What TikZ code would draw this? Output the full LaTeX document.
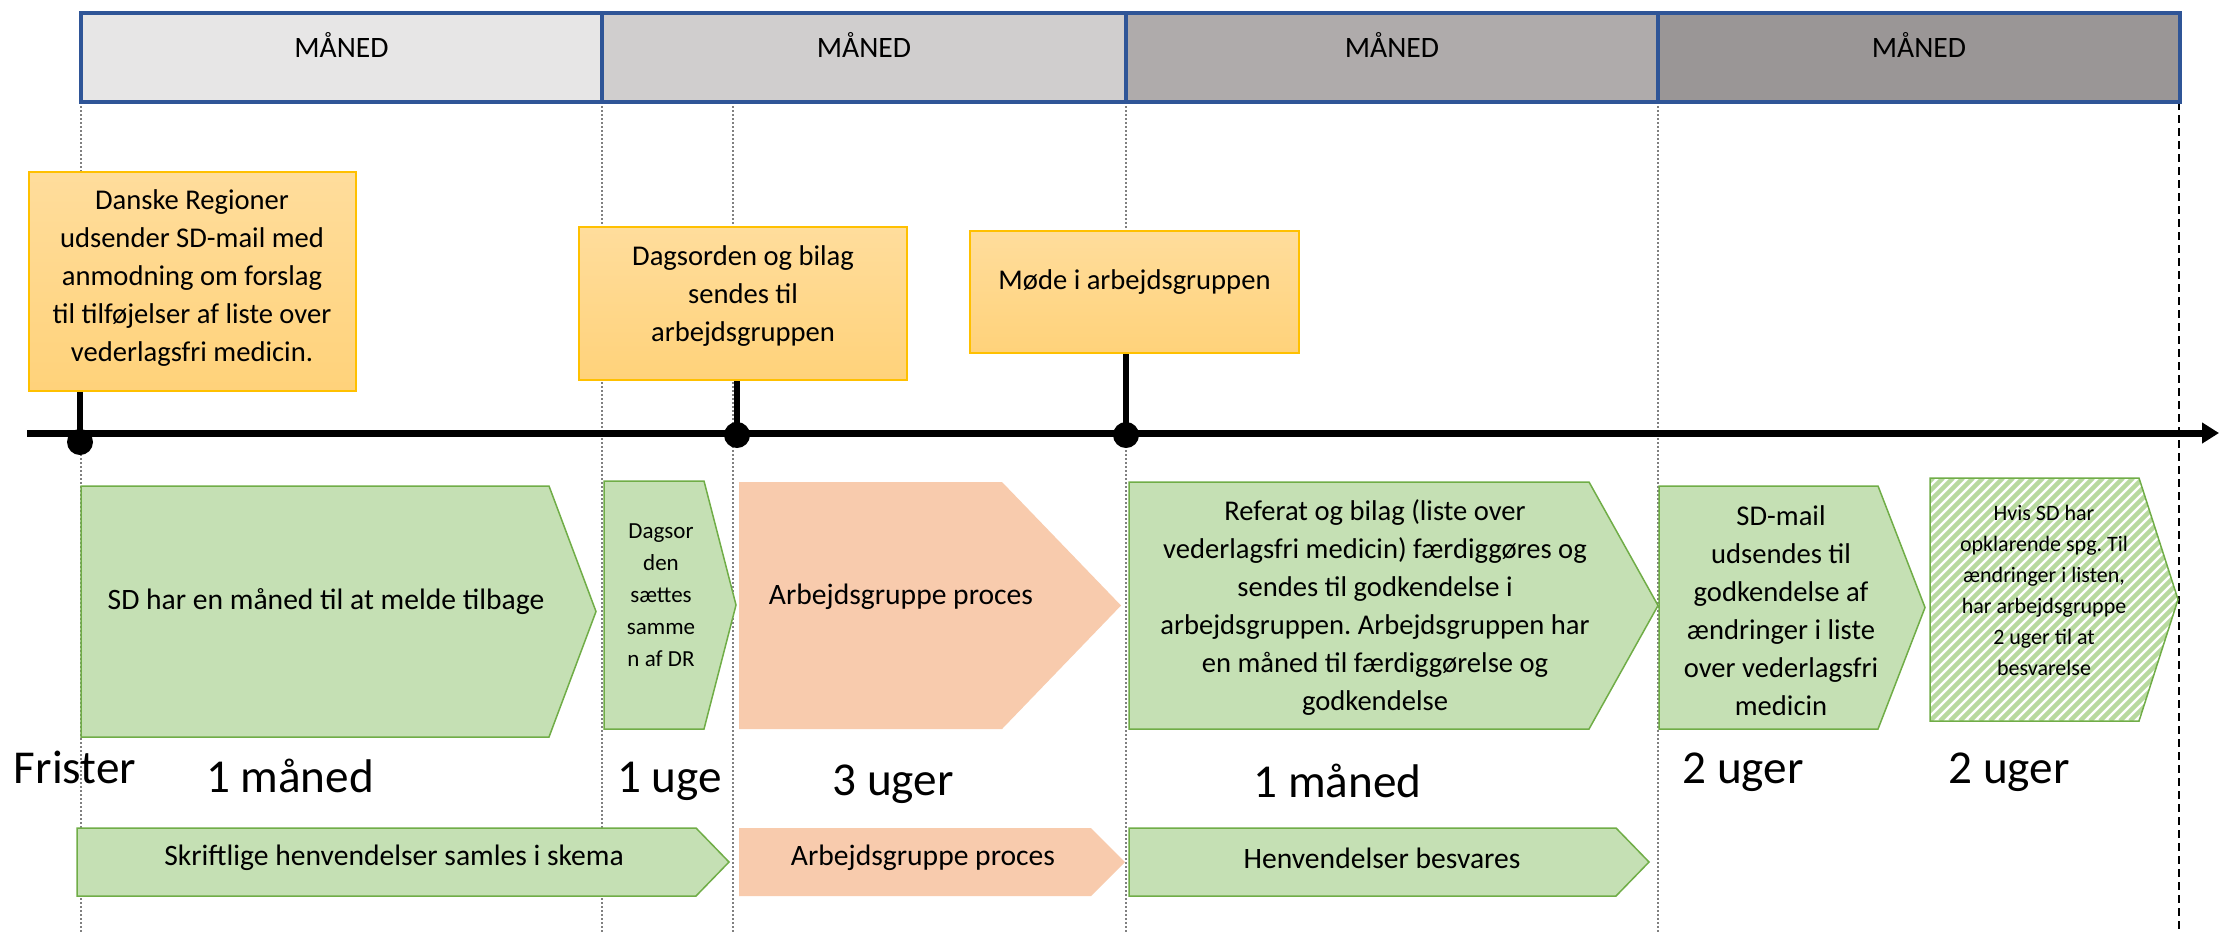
\documentclass[tikz,border=0pt]{standalone}
\usepackage{fontspec}
\setmainfont{Carlito}
\usetikzlibrary{arrows.meta}
\definecolor{mA}{HTML}{E7E6E6}
\definecolor{mB}{HTML}{D0CECE}
\definecolor{mC}{HTML}{AFABAB}
\definecolor{mD}{HTML}{9A9696}
\definecolor{bordblue}{HTML}{2F5597}
\definecolor{ogold}{HTML}{FFC000}
\definecolor{otop}{HTML}{FFDD9C}
\definecolor{obot}{HTML}{FFD27A}
\definecolor{gfill}{HTML}{C5E0B4}
\definecolor{gline}{HTML}{70AD47}
\definecolor{pfill}{HTML}{F8CBAD}
\definecolor{hatchc}{HTML}{B8D99F}
\frenchspacing
\begin{document}
\begin{tikzpicture}[x=0.5pt,y=-0.5pt,
  mbox/.style={draw=bordblue, line width=2pt, inner sep=0, minimum height=44.5pt},
  mtext/.style={inner sep=0, font=\fontsize{14.8}{17}\selectfont},
  obox/.style={draw=ogold, line width=1pt, top color=otop, bottom color=obot, inner sep=0},
  txt/.style={align=center, inner sep=0, font=\fontsize{14.3}{19}\selectfont},
  widetxt/.style={align=center, inner sep=0, font=\fontsize{14.8}{19}\selectfont},
  smalltxt/.style={align=center, inner sep=0, font=\fontsize{11.5}{16}\selectfont},
  hatchtxt/.style={align=center, inner sep=0, font=\fontsize{11}{15.5}\selectfont},
  big/.style={inner sep=0, anchor=base, font=\fontsize{23.6}{27}\selectfont},
  dot/.style={circle, fill=black, inner sep=0, minimum size=13pt},
  stem/.style={line width=3pt},
  grn/.style={fill=gfill, draw=gline, line width=0.75pt},
  pch/.style={fill=pfill},
  vline/.style={draw=gray, line width=0.6pt, dash pattern=on 1pt off 1pt},
  vlast/.style={draw=black, line width=1pt, dash pattern=on 4pt off 2.5pt}]
\useasboundingbox (0,0) rectangle (2219,933);
\fill[white] (0,0) rectangle (2219,933);

% vertical guide lines
\foreach \xx in {81,602,733,1126,1658}{
  \draw[vline] (\xx,102) -- (\xx,933);
}
\draw[vlast] (2179,102) -- (2179,933);

% month header boxes
\node[mbox, fill=mA, minimum width=260.5pt] (m1) at (341.5,57.5) {};
\node[mbox, fill=mB, minimum width=262pt] (m2) at (864,57.5) {};
\node[mbox, fill=mC, minimum width=266pt] (m3) at (1392,57.5) {};
\node[mbox, fill=mD, minimum width=261pt] (m4) at (1919,57.5) {};
\node[mtext] (m1t) at (341.5,45) {MÅNED};
\node[mtext] (m2t) at (864,45) {MÅNED};
\node[mtext] (m3t) at (1392,45) {MÅNED};
\node[mtext] (m4t) at (1919,45) {MÅNED};

% timeline
\coordinate (tl0) at (27,433);
\coordinate (tl1) at (2219,433);
\draw[line width=3.5pt, -{Triangle[length=8.5pt,width=10pt]}] (tl0) -- (tl1);

\node[dot] (dot1) at (80,442) {};
\node[dot] (dot2) at (737,435) {};
\node[dot] (dot3) at (1126,435) {};

% orange event boxes
\node[obox, minimum width=163.5pt, minimum height=109.5pt] (boxA) at (192.5,281.5) {};
\node[obox, minimum width=164pt, minimum height=76.5pt] (boxB) at (743,303.5) {};
\node[obox, minimum width=164.5pt, minimum height=61pt] (boxC) at (1134.5,292) {};
\draw[stem] (boxA.south -| dot1.center) -- (dot1.center);
\draw[stem] (boxB.south -| dot2.center) -- (dot2.center);
\draw[stem] (boxC.south -| dot3.center) -- (dot3.center);
\node[txt] (tA) at (192,278) {Danske Regioner\\udsender SD-mail med\\anmodning om forslag\\til tilføjelser af liste over\\vederlagsfri medicin.};
\node[txt] (tB) at (743,296) {Dagsorden og bilag\\sendes til\\arbejdsgruppen};
\node[txt] (tC) at (1134.5,282) {Møde i arbejdsgruppen};

% process chevrons
\draw[grn] (81,486) -- (549,486) -- (596,611.5) -- (549,737) -- (81,737) -- cycle;
\draw[grn] (604,481) -- (704,481) -- (736,605) -- (704,729) -- (604,729) -- cycle;
\fill[pch] (739,482) -- (1002,482) -- (1121,605.5) -- (1002,729) -- (739,729) -- cycle;
\draw[grn] (1129,482) -- (1589,482) -- (1658,605.5) -- (1589,729) -- (1129,729) -- cycle;
\draw[grn] (1659,486) -- (1878,486) -- (1925,607.5) -- (1878,729) -- (1659,729) -- cycle;
\begin{scope}
  \clip (1930,478) -- (2139,478) -- (2178,599.5) -- (2139,721) -- (1930,721) -- cycle;
  \fill[white] (1930,478) rectangle (2180,721);
  \foreach \xx in {1680,1690,...,2190}{
    \draw[hatchc, line width=2.2pt] (\xx,721) -- ++(243,-243);
  }
\end{scope}
\draw[draw=gline, line width=0.75pt] (1930,478) -- (2139,478) -- (2178,599.5) -- (2139,721) -- (1930,721) -- cycle;

\node[widetxt] (c1) at (326,602) {SD har en måned til at melde tilbage};
\node[smalltxt] (c2) at (661,595) {Dagsor\\den\\sættes\\samme\\n af DR};
\node[widetxt] (c3) at (901,597) {Arbejdsgruppe proces};
\node[txt] (c4) at (1375,607.5) {Referat og bilag (liste over\\vederlagsfri medicin) færdiggøres og\\sendes til godkendelse i\\arbejdsgruppen. Arbejdsgruppen har\\en måned til færdiggørelse og\\godkendelse};
\node[txt] (c5) at (1781,611) {SD-mail\\udsendes til\\godkendelse af\\ændringer i liste\\over vederlagsfri\\medicin};
\node[hatchtxt] (c6) at (2044,590) {Hvis SD har\\opklarende spg. Til\\ændringer i listen,\\har arbejdsgruppe\\2 uger til at\\besvarelse};

% deadlines
\node[big] (f0) at (75,783) {Frister};
\node[big] (f1) at (290,792) {1 måned};
\node[big] (f2) at (669.5,792) {1 uge};
\node[big] (f3) at (893,795) {3 uger};
\node[big] (f4) at (1337.5,797) {1 måned};
\node[big] (f5) at (1743,783) {2 uger};
\node[big] (f6) at (2009,783) {2 uger};

% bottom row
\draw[grn] (77,828) -- (696,828) -- (729,862) -- (696,896) -- (77,896) -- cycle;
\fill[pch] (739,828) -- (1091,828) -- (1125,862) -- (1091,896) -- (739,896) -- cycle;
\draw[grn] (1129,828) -- (1616,828) -- (1649,862) -- (1616,896) -- (1129,896) -- cycle;
\node[widetxt] (b1) at (394,858) {Skriftlige henvendelser samles i skema};
\node[widetxt] (b2) at (923,858) {Arbejdsgruppe proces};
\node[widetxt] (b3) at (1382,858) {Henvendelser besvares};
\end{tikzpicture}
\end{document}
